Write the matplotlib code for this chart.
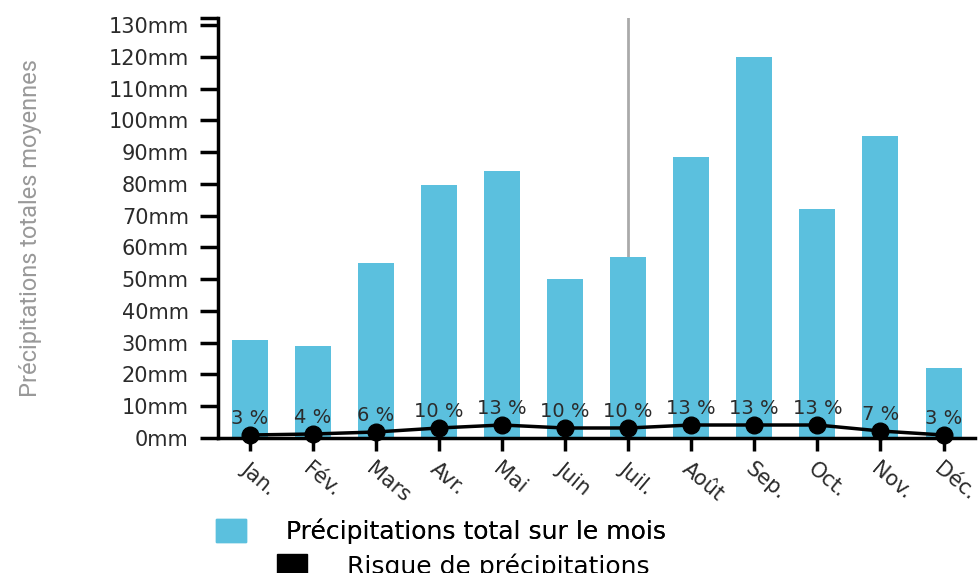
import matplotlib.pyplot as plt
from matplotlib.patches import Patch
import numpy as np

months = ['Jan.', 'Fév.', 'Mars', 'Avr.', 'Mai', 'Juin', 'Juil.', 'Août', 'Sep.', 'Oct.', 'Nov.', 'Déc.']
rain_mm = [31, 29, 55, 79.5, 84, 50, 57, 88.5, 120, 72, 95, 22]
rain_risk = [3, 4, 6, 10, 13, 10, 10, 13, 13, 13, 7, 3]
y_ticks = list(range(0, 140, 10))

bar_color = '#5bc0de'
text_color = '#2b2b2b'

fig = plt.figure(figsize=(9.79, 5.73), dpi=100)
ax = fig.add_axes([0.2227, 0.2356, 0.7733, 0.733])
x = np.arange(len(months))

# hover marker on July
ax.axvline(6, color='#aaaaaa', lw=2, zorder=0)
ax.bar(x, rain_mm, width=0.57, color=bar_color, zorder=2)

ax.set_xlim(-0.5, 11.5)
ax.set_ylim(0, 132.2)
ax.set_yticks(y_ticks)
ax.set_yticklabels(['%dmm' % v for v in y_ticks], fontsize=15, color=text_color)
ax.set_yticks([132.2], minor=True)
ax.tick_params(axis='y', which='both', length=13, width=2.5, pad=8)
ax.set_xticks(x)
ax.set_xticklabels(months, rotation=-40, ha='left', va='top', rotation_mode='anchor',
                   fontsize=15, color=text_color)
ax.tick_params(axis='x', length=9, width=2.5, pad=6)
for side in ['top', 'right']:
    ax.spines[side].set_visible(False)
for side in ['left', 'bottom']:
    ax.spines[side].set_linewidth(2.5)
    ax.spines[side].set_zorder(5)

ax.set_ylabel('Précipitations totales moyennes', family=['Roboto', 'DejaVu Sans'],
              fontstretch='condensed', fontweight='normal', fontsize=17, color='#999999')
ax.yaxis.set_label_coords(-0.232, 0.5)

# risk line on its own scale
ax2 = ax.twinx()
ax2.set_ylim(0, 420)
ax2.axis('off')
ax2.plot(x, rain_risk, color='black', lw=2.5, marker='o', markersize=12, zorder=4, clip_on=False)
for xi, r in zip(x, rain_risk):
    ax2.annotate('%d %%' % r, (xi, r), xytext=(0, 5), textcoords='offset points',
                 ha='center', va='bottom', fontsize=14, color=text_color)

leg1 = fig.legend(handles=[Patch(color=bar_color)], labels=['Précipitations total sur le mois'],
                  loc='center', bbox_to_anchor=(0.45, 0.073), frameon=False, fontsize=18,
                  handlelength=1.2, handleheight=1.0, handletextpad=1.6)
fig.add_artist(leg1)
fig.legend(handles=[Patch(color='black')], labels=['Risque de précipitations'],
           loc='center', bbox_to_anchor=(0.473, 0.012), frameon=False, fontsize=18,
           handlelength=1.2, handleheight=1.0, handletextpad=1.6)

fig.savefig('out.png', dpi=100)
